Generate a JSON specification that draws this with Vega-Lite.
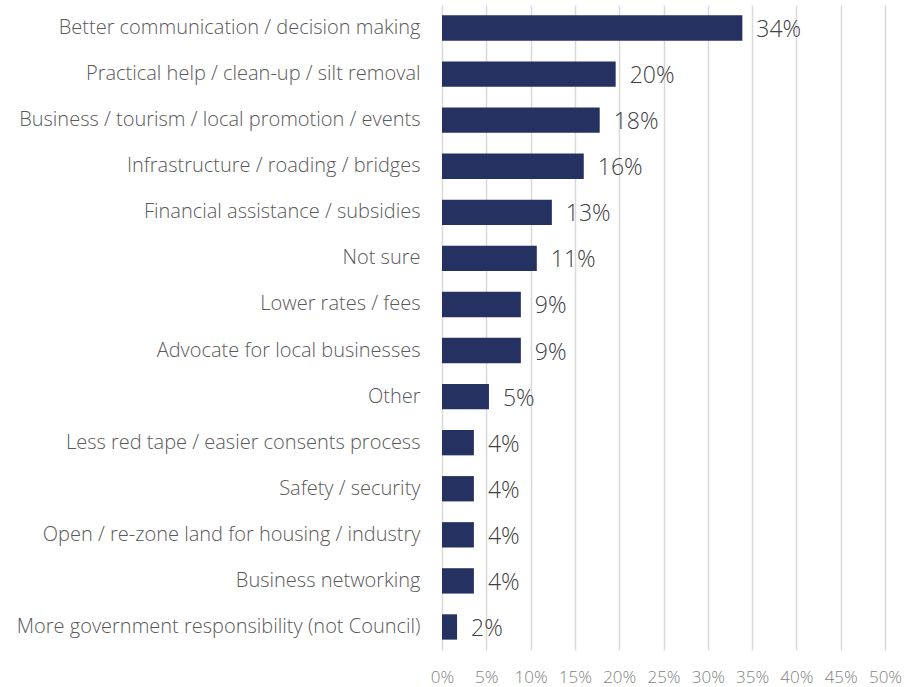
{
  "$schema": "https://vega.github.io/schema/vega-lite/v6.json",
  "autosize": "none",
  "width": 443,
  "height": 645,
  "padding": {"left": 442, "top": 5, "right": 30, "bottom": 37},
  "background": "white",
  "config": {"view": {"stroke": null}, "font": "Open Sans"},
  "data": {"values": [
    {"category": "Better communication / decision making", "value": 33.9, "label": "34%"},
    {"category": "Practical help / clean-up / silt removal", "value": 19.6, "label": "20%"},
    {"category": "Business / tourism / local promotion / events", "value": 17.8, "label": "18%"},
    {"category": "Infrastructure / roading / bridges", "value": 16.0, "label": "16%"},
    {"category": "Financial assistance / subsidies", "value": 12.4, "label": "13%"},
    {"category": "Not sure", "value": 10.7, "label": "11%"},
    {"category": "Lower rates / fees", "value": 8.9, "label": "9%"},
    {"category": "Advocate for local businesses", "value": 8.9, "label": "9%"},
    {"category": "Other", "value": 5.3, "label": "5%"},
    {"category": "Less red tape / easier consents process", "value": 3.6, "label": "4%"},
    {"category": "Safety / security", "value": 3.6, "label": "4%"},
    {"category": "Open / re-zone land for housing / industry", "value": 3.6, "label": "4%"},
    {"category": "Business networking", "value": 3.6, "label": "4%"},
    {"category": "More government responsibility (not Council)", "value": 1.7, "label": "2%"}
  ]},
  "encoding": {
    "y": {"field": "category", "type": "nominal", "sort": null,
      "scale": {"paddingInner": 0.45, "paddingOuter": 0.225},
      "axis": {"title": null, "ticks": false, "domain": false, "labelFontSize": 20, "labelColor": "#595959", "labelPadding": 22, "labelFontWeight": 300, "labelLimit": 600}},
    "x": {"field": "value", "type": "quantitative",
      "scale": {"domain": [0, 50], "nice": false},
      "axis": {"title": null, "values": [0,5,10,15,20,25,30,35,40,45,50], "labelExpr": "datum.value + '%'", "ticks": false, "domain": false, "grid": true, "gridColor": "#d9d9d9", "gridWidth": 1.5, "labelFontSize": 17, "labelColor": "#7f7f7f", "labelPadding": 19, "labelFontWeight": 300, "labelOverlap": false, "labelFlush": false, "labelBound": false}}
  },
  "layer": [
    {"mark": {"type": "bar", "color": "#253160"}},
    {"mark": {"type": "text", "align": "left", "baseline": "middle", "dx": 14, "dy": 2, "fontSize": 23, "fontWeight": 300, "color": "#404040"},
     "encoding": {"text": {"field": "label"}}}
  ]
}
